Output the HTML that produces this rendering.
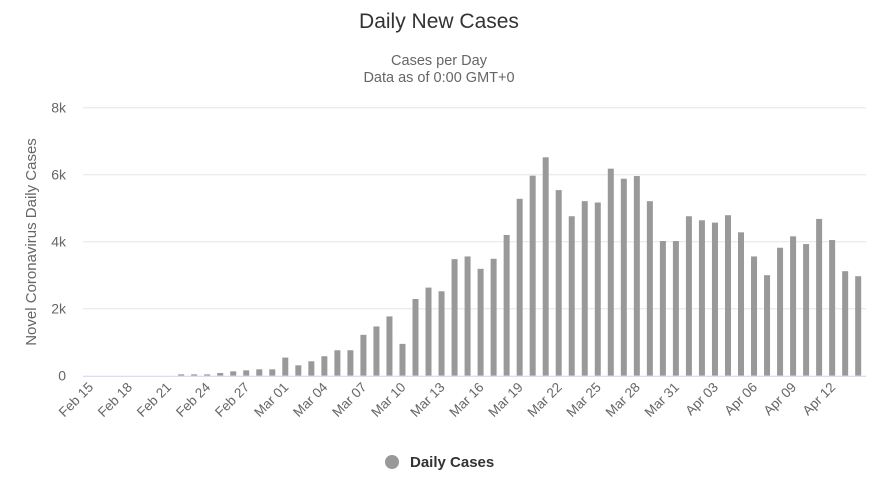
<!DOCTYPE html>
<html><head><meta charset="utf-8"><style>
html,body{margin:0;padding:0;background:#fff;}
svg{display:block;font-family:"Liberation Sans",sans-serif;}
</style></head><body>
<svg id="c" width="878" height="500" xmlns="http://www.w3.org/2000/svg">
<text x="439" y="28" text-anchor="middle" font-size="21" fill="#333">Daily New Cases</text>
<text x="439" y="65" text-anchor="middle" font-size="14.5" fill="#666">Cases per Day</text>
<text x="439" y="82" text-anchor="middle" font-size="14.5" fill="#666">Data as of 0:00 GMT+0</text>
<text transform="translate(36,242) rotate(-90)" text-anchor="middle" font-size="15" fill="#666">Novel Coronavirus Daily Cases</text>
<g id="g"></g>
<circle cx="392" cy="462" r="7" fill="#999"/>
<text x="410" y="467" font-size="15" font-weight="bold" fill="#333">Daily Cases</text>
</svg>
<script>
var v=[0,0,0,0,0,0,0,40,40,40,80,130,160,190,190,540,310,430,580,760,760,1220,1470,1770,950,2290,2630,2520,3480,3560,3190,3490,4200,5280,5970,6520,5540,4760,5210,5170,6180,5880,5960,5210,4020,4020,4760,4640,4570,4790,4280,3560,3000,3820,4160,3930,4680,4050,3120,2970];
var s='',base=375.7,k=0.0335;
[0,2000,4000,6000,8000].forEach(function(t,i){var y=base-t*k;
 if(t>0)s+='<line x1="83" x2="866" y1="'+y+'" y2="'+y+'" stroke="#e6e6e6"/>';
 s+='<text x="66" y="'+(y+5)+'" text-anchor="end" font-size="14" fill="#666">'+(t?t/1000+'k':'0')+'</text>';});
var m=['Feb','Mar','Apr'];
for(var i=0;i<60;i++){var cx=90+i*13.02,h=v[i]*k;
 if(h>0)s+='<rect x="'+(cx-3)+'" y="'+(base-h)+'" width="6" height="'+h+'" fill="#999"/>';
 if(i%3==0){var mo,d;if(i<15){mo=0;d=15+i}else if(i<46){mo=1;d=i-14}else{mo=2;d=i-45}
  var lab=m[mo]+' '+(d<10?'0'+d:d);var x=cx+4,y=388;
  s+='<text x="'+x+'" y="'+y+'" text-anchor="end" font-size="13.5" fill="#666" transform="rotate(-45 '+x+' '+y+')">'+lab+'</text>';}
}
s+='<line x1="83" x2="866" y1="'+(base+0.5)+'" y2="'+(base+0.5)+'" stroke="#ccd6eb"/>';
document.getElementById('g').innerHTML=s;
</script>
</body></html>
